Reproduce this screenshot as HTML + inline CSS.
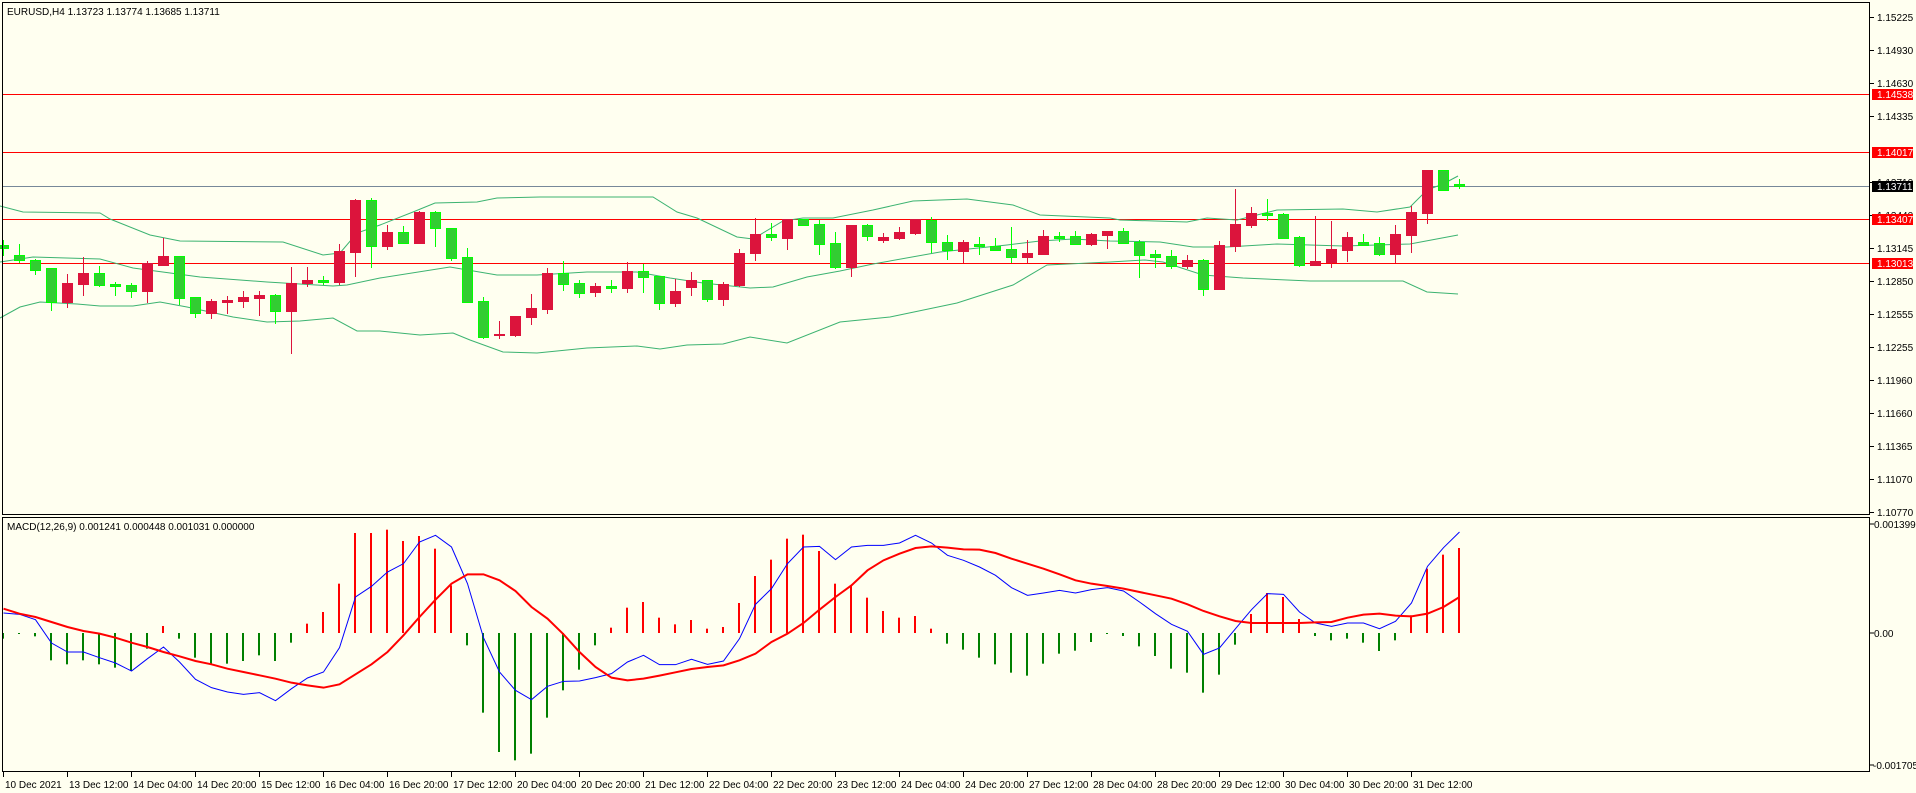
<!DOCTYPE html>
<html><head><meta charset="utf-8"><style>
html,body{margin:0;padding:0;background:#fffff0;}
svg{display:block;font-family:"Liberation Sans",sans-serif;}
</style></head><body>
<svg id="c" width="1916" height="793" xmlns="http://www.w3.org/2000/svg"></svg>
<script>
const S=document.getElementById('c');let h='';
h+='<rect width="1916" height="793" fill="#fffff0"/>';
// candles: [color, bodyTop, bodyBot, wickTop, wickBot]
const C=[['g',245,248,240,256],['g',255,260,244,263],['g',260,270,259,275],['g',268,302,268,311],['r',283,302,274,308],['r',273,284,257,296],['g',273,285,266,287],['g',284,286,282,296],['g',285,291,283,298],['r',263,291,261,303],['r',256,265,238,266],['g',256,298,256,305],['g',297,313,297,318],['r',301,313,299,319],['r',300,302,296,314],['r',297,301,291,308],['r',295,298,291,316],['g',295,311,294,324],['r',283,311,267,354],['r',280,283,267,287],['g',280,282,276,285],['r',251,282,244,285],['r',200,252,199,277],['g',200,246,198,268],
['r',232,246,225,250],['g',232,243,226,244],['r',212,243,211,244],['g',212,228,211,247],['g',228,258,228,261],['g',257,302,248,303],['g',301,337,297,339],['r',334,335,321,339],['r',316,335,316,337],['r',308,317,294,325],['r',273,309,268,314],['g',273,284,261,291],['g',283,293,280,298],['r',286,292,283,297],['g',286,288,280,293],['r',271,288,262,293],['g',271,277,264,293],['g',276,303,276,310],['r',291,303,279,307],['r',280,287,272,296],['g',280,299,280,302],['r',284,299,282,306],['r',253,285,249,287],
['r',234,253,218,261],['g',234,237,223,241],['r',219,238,219,250],['g',219,225,219,225],['g',224,244,220,255],['g',243,267,232,269],['r',225,267,225,277],['g',225,236,224,241],['r',237,240,233,243],['r',232,238,227,240],['r',219,233,219,235],['g',220,242,217,253],['g',242,250,235,260],['r',242,251,240,263],['g',244,246,237,255],['g',246,250,238,251],['g',249,257,227,263],['r',253,257,240,263],['r',236,254,230,255],['g',236,238,232,242],['g',236,244,231,245],['r',234,244,233,246],['r',231,235,231,249],
['g',231,243,228,243],['g',242,255,240,278],['g',254,257,250,268],['g',256,266,250,269],['r',260,266,255,269],['g',260,289,259,296],['r',245,289,241,290],['r',224,246,189,252],['r',213,225,207,228],['g',213,215,199,221],['g',214,238,213,239],['g',237,265,236,267],['r',261,265,216,266],['r',249,262,221,268],['r',237,250,232,262],['g',242,245,234,245],['g',243,254,237,256],['r',234,254,225,263],['r',212,235,206,253],['r',170,213,170,224],['g',170,190,170,190],['g',184,186,179,189]];
const X=i=>3+16*i;
function pl(pts,col,w){return '<polyline fill="none" stroke="'+col+'" stroke-width="'+w+'" points="'+pts.map(p=>p.join(',')).join(' ')+'"/>';}
// horizontal lines
[[94,'#ff0000'],[152,'#ff0000'],[219,'#ff0000'],[263,'#ff0000'],[186,'#778899']].forEach(l=>{h+='<line x1="2" x2="1870" y1="'+(l[0]+.5)+'" y2="'+(l[0]+.5)+'" stroke="'+l[1]+'" stroke-width="1"/>';});
// bollinger
const bc='#3cb371';
h+=pl([[0,206],[23,212],[100,213],[110,219],[150,235],[180,241],[283,242],[323,255],[340,253],[357,233],[380,225],[413,212],[435,203],[477,202],[497,198],[540,197],[653,197],[677,212],[697,218],[737,237],[753,239],[783,221],[803,218],[833,218],[873,210],[913,201],[967,199],[1013,205],[1040,215],[1110,218],[1120,220],[1187,222],[1207,218],[1237,220],[1277,210],[1343,209],[1377,212],[1410,207],[1427,190],[1443,184],[1458,176]],bc,1);
h+=pl([[0,262],[33,257],[100,259],[133,268],[200,277],[267,282],[333,286],[347,285],[380,278],[450,267],[497,275],[537,275],[587,272],[637,272],[670,278],[703,283],[750,288],[773,287],[807,277],[840,271],[873,264],[940,252],[1007,245],[1040,241],[1073,239],[1110,241],[1160,242],[1193,247],[1227,247],[1277,244],[1343,246],[1410,244],[1458,235]],bc,1);
h+=pl([[0,318],[20,307],[40,302],[77,304],[100,306],[133,306],[160,302],[187,307],[233,317],[267,322],[300,321],[333,318],[357,331],[380,331],[420,335],[453,333],[470,340],[503,352],[537,353],[587,348],[637,346],[660,349],[687,345],[723,344],[750,337],[787,343],[840,322],[890,317],[957,303],[1013,285],[1047,265],[1110,262],[1145,260],[1163,262],[1203,275],[1243,278],[1310,281],[1403,281],[1427,292],[1458,294]],bc,1);
// candles
C.forEach((c,i)=>{const x=X(i);const g=c[0]=='g';const wc=g?'#00ff00':'#dc143c';
h+='<line x1="'+(x+.5)+'" x2="'+(x+.5)+'" y1="'+c[3]+'" y2="'+c[4]+'" stroke="'+wc+'" stroke-width="1"/>';
let bh=Math.max(c[2]-c[1],1);
if(g) h+='<rect x="'+(x-5+.5)+'" y="'+(c[1]+.5)+'" width="10" height="'+bh+'" fill="#32cd32" stroke="#00ff00" stroke-width="1"/>';
else h+='<rect x="'+(x-5)+'" y="'+c[1]+'" width="11" height="'+(bh+1)+'" fill="#dc143c"/>';});
// MACD
const Z=633;const m=v=>517+v/3;
const HI=[365,350,358,430,442,430,442,452,462,395,327,365,422,440,440,432,415,432,377,320,285,200,48,48,38,72,57,95,205,385,587,705,730,710,602,520,458,385,332,272,255,302,322,309,335,330,258,177,128,65,53,102,200,205,242,282,302,297,335,380,398,422,442,467,476,440,410,401,375,350,357,388,417,455,467,527,473,383,291,228,240,306,357,370,365,377,402,370,295,155,113,93];
HI.forEach((v,i)=>{const y=m(v);const x=X(i);const up=y<Z;h+='<rect x="'+(x-1)+'" y="'+Math.min(y,Z)+'" width="2" height="'+Math.max(Math.abs(y-Z),1)+'" fill="'+(up?'#ff0000':'#008000')+'"/>';});
const BL=[288,292,308,378,405,405,422,438,462,425,390,435,487,512,525,532,527,551,515,483,465,392,240,208,165,140,75,55,90,200,362,465,520,548,508,493,492,482,470,435,415,443,443,427,442,432,365,262,215,140,90,88,128,90,85,85,78,55,78,115,130,150,175,212,235,228,220,228,218,212,222,255,290,322,343,412,393,335,278,230,232,285,318,328,318,318,335,313,258,148,92,45];
const RD=[275,290,300,315,330,342,350,362,377,390,405,418,432,442,455,465,475,485,497,505,512,502,472,442,405,355,300,248,200,172,172,190,222,270,305,352,405,450,482,490,485,476,466,456,450,445,430,410,375,350,318,278,240,205,160,130,110,93,88,92,97,98,108,125,140,155,172,190,200,207,215,225,235,245,262,282,298,312,318,318,318,318,316,315,302,293,290,296,298,290,270,240];
h+=pl(BL.map((v,i)=>[X(i)+.5,m(v)]),'#0000ff',1);
h+=pl(RD.map((v,i)=>[X(i)+.5,m(v)]),'#ff0000',2);
// frames
h+='<rect x="2.5" y="2.5" width="1867" height="512" fill="none" stroke="#000" stroke-width="1"/>';
h+='<rect x="2.5" y="517.5" width="1867" height="254" fill="none" stroke="#000" stroke-width="1"/>';
// price axis
const P=[[17,'1.15225'],[50,'1.14930'],[83,'1.14630'],[116,'1.14335'],[182,'1.13710'],[215,'1.13440'],[248,'1.13145'],[281,'1.12850'],[314,'1.12555'],[347,'1.12255'],[380,'1.11960'],[413,'1.11660'],[446,'1.11365'],[479,'1.11070'],[512,'1.10770']];
P.forEach(p=>{h+='<line x1="1870" x2="1874" y1="'+(p[0]+.5)+'" y2="'+(p[0]+.5)+'" stroke="#000"/>';h+='<text x="1877" y="'+(p[0]+4)+'" font-size="10" fill="#000">'+p[1]+'</text>';});
[[94,'1.14538','#ff0000'],[152,'1.14017','#ff0000'],[186,'1.13711','#000'],[219,'1.13407','#ff0000'],[263,'1.13013','#ff0000']].forEach(b=>{h+='<rect x="1872" y="'+(b[0]-5)+'" width="41" height="11" fill="'+b[2]+'"/><text x="1877" y="'+(b[0]+4)+'" font-size="10" fill="#fff">'+b[1]+'</text>';});
[[524,'0.001399',1874],[633,'0.00',1874],[765,'-0.001705',1873]].forEach(p=>{h+='<line x1="1870" x2="1874" y1="'+p[0]+'" y2="'+p[0]+'" stroke="#000"/><text x="'+p[2]+'" y="'+(p[0]+4)+'" font-size="10" fill="#000">'+p[1]+'</text>';});
// time axis
const T=['10 Dec 2021','13 Dec 12:00','14 Dec 04:00','14 Dec 20:00','15 Dec 12:00','16 Dec 04:00','16 Dec 20:00','17 Dec 12:00','20 Dec 04:00','20 Dec 20:00','21 Dec 12:00','22 Dec 04:00','22 Dec 20:00','23 Dec 12:00','24 Dec 04:00','24 Dec 20:00','27 Dec 12:00','28 Dec 04:00','28 Dec 20:00','29 Dec 12:00','30 Dec 04:00','30 Dec 20:00','31 Dec 12:00'];
T.forEach((t,k)=>{const x=3+64*k;h+='<line x1="'+(x+.5)+'" x2="'+(x+.5)+'" y1="772" y2="777" stroke="#000"/><text x="'+(x+2)+'" y="788" font-size="10" fill="#000">'+t+'</text>';});
h+='<text x="7" y="15" font-size="10" fill="#000">EURUSD,H4  1.13723 1.13774 1.13685 1.13711</text>';
h+='<text x="7" y="530" font-size="10" fill="#000">MACD(12,26,9) 0.001241 0.000448 0.001031 0.000000</text>';
S.innerHTML=h;
</script>
</body></html>
